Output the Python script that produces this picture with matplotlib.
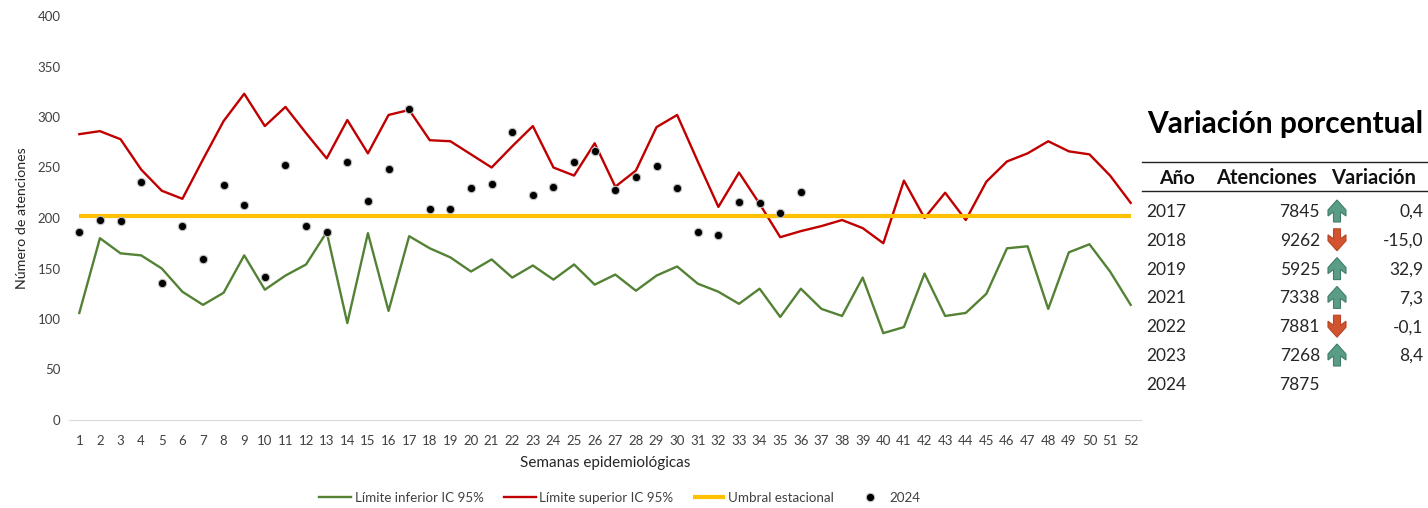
import matplotlib
matplotlib.use("Agg")
import matplotlib.pyplot as plt
from matplotlib.patches import Polygon

plt.rcParams["font.family"] = ["Lato", "DejaVu Sans"]

weeks = list(range(1, 53))
lower = [106, 180, 165, 163, 150, 127, 114, 126, 163, 129, 143, 154, 186, 96, 185, 108, 182, 170, 161, 147,
         159, 141, 153, 139, 154, 134, 144, 128, 143, 152, 135, 127, 115, 130, 102, 130, 110, 103, 141, 86,
         92, 145, 103, 106, 125, 170, 172, 110, 166, 174, 147, 114]
upper = [283, 286, 278, 248, 227, 219, 258, 296, 323, 291, 310, 284, 259, 297, 264, 302, 307, 277, 276, 263,
         250, 271, 291, 250, 242, 274, 231, 247, 290, 302, 256, 211, 245, 214, 181, 187, 192, 198, 190, 175,
         237, 200, 225, 198, 236, 256, 264, 276, 266, 263, 242, 215]
threshold = [202] * 52
cases_2024 = [186, 198, 197, 236, 136, 192, 159, 233, 213, 142, 252, 192, 186, 255, 217, 249, 308, 209, 209, 230,
              234, 285, 223, 231, 255, 266, 228, 241, 251, 230, 186, 183, 216, 215, 205, 226]

years = ["2017", "2018", "2019", "2021", "2022", "2023", "2024"]
visits = ["7845", "9262", "5925", "7338", "7881", "7268", "7875"]
changes = ["0,4", "-15,0", "32,9", "7,3", "-0,1", "8,4", ""]
arrows = ["up", "down", "up", "up", "down", "up", None]

W, H = 1428, 508
fig = plt.figure(figsize=(W / 100, H / 100), dpi=100)
ax = fig.add_axes([69 / W, 1 - 420 / H, (1141 - 69) / W, (420 - 16) / H])

ax.plot(weeks, lower, color="#548235", lw=1.7, label="Límite inferior IC 95%")
ax.plot(weeks, upper, color="#C00000", lw=1.7, label="Límite superior IC 95%")
ax.plot(weeks, threshold, color="#FFC000", lw=3, solid_capstyle="butt", label="Umbral estacional")
ax.plot(weeks[:len(cases_2024)], cases_2024, ls="none", marker="o", ms=6, mfc="black", mec="#c0c0c0", mew=0.8,
        label="2024")

ax.set_xlim(0.5, 52.5)
ax.set_ylim(0, 400)
ax.set_xticks(weeks)
ax.set_yticks(range(0, 401, 50))
ax.tick_params(length=0, labelsize=9.5, labelcolor="#404040")
ax.tick_params(axis="x", pad=11)
ax.tick_params(axis="y", pad=6)
for s in ["top", "right", "left"]:
    ax.spines[s].set_visible(False)
ax.spines["bottom"].set_color("#d9d9d9")
ax.set_xlabel("Semanas epidemiológicas", fontsize=11, color="#262626", labelpad=6)
ax.set_ylabel("Número de atenciones", fontsize=10.3, color="#262626", labelpad=7)

fig.legend(loc="center", bbox_to_anchor=(620 / W, 1 - 498 / H), ncol=4, frameon=False, fontsize=9.6,
           labelcolor="#404040", columnspacing=1.5, handlelength=2.4, handletextpad=0.25)

# table on the right, drawn in pixel coordinates
tab = fig.add_axes([0, 0, 1, 1])
tab.set_xlim(0, W)
tab.set_ylim(H, 0)
tab.axis("off")
tab.patch.set_alpha(0)

tab.text(1285, 124, "Variación porcentual", fontsize=21.5, fontweight="bold", ha="center", va="center", color="black")
tab.plot([1142, 1427], [162, 162], color="#222222", lw=1)
tab.plot([1142, 1427], [191, 191], color="#222222", lw=1)
tab.text(1177, 178, "Año", fontsize=14, fontweight="bold", ha="center", va="center", color="#111111")
tab.text(1266, 178, "Atenciones", fontsize=14.5, fontweight="bold", ha="center", va="center", color="#111111")
tab.text(1374, 178, "Variación", fontsize=14.5, fontweight="bold", ha="center", va="center", color="#111111")


def draw_arrow(cx, cy, direction):
    d = -1 if direction == "up" else 1
    pts = [(cx - 3.5, cy - 11 * d), (cx + 3.5, cy - 11 * d), (cx + 3.5, cy - 1 * d), (cx + 9, cy - 5 * d),
           (cx + 9, cy + 1 * d), (cx, cy + 11 * d), (cx - 9, cy + 1 * d), (cx - 9, cy - 5 * d), (cx - 3.5, cy - 1 * d)]
    if direction == "up":
        face, edge = "#5B9C86", "#3F7F6A"
    else:
        face, edge = "#D2532F", "#B84526"
    tab.add_patch(Polygon(pts, closed=True, facecolor=face, edgecolor=edge, lw=0.8))


for i, year in enumerate(years):
    y = 212 + i * 28.8
    tab.text(1146, y, year, fontsize=12.5, ha="left", va="center", color="#262626")
    tab.text(1320, y, visits[i], fontsize=12.5, ha="right", va="center", color="#262626")
    tab.text(1423, y, changes[i], fontsize=12.5, ha="right", va="center", color="#262626")
    if arrows[i]:
        draw_arrow(1337, y - 1, arrows[i])

fig.savefig("out.png", dpi=100)
